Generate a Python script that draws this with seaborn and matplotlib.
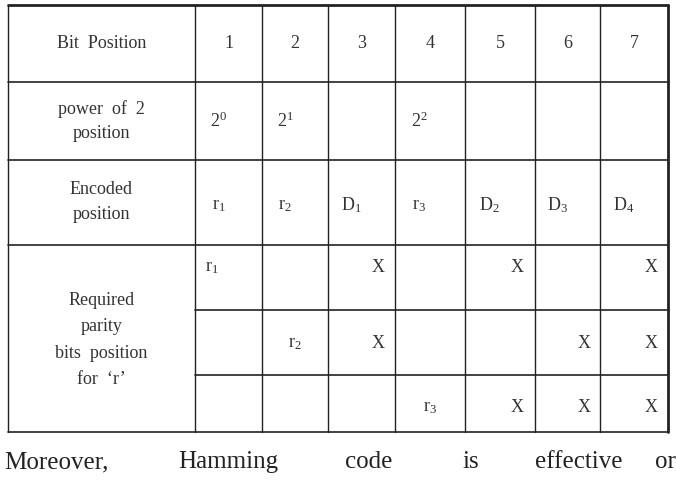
import matplotlib
matplotlib.use("Agg")
import matplotlib.pyplot as plt
import seaborn as sns

sns.set_style("white")
plt.rcParams['font.family'] = ['Liberation Serif', 'DejaVu Serif']
plt.rcParams['mathtext.fontset'] = 'custom'
plt.rcParams['mathtext.rm'] = 'Liberation Serif'
plt.rcParams['mathtext.it'] = 'Liberation Serif'

# table content
row_labels = ["Bit  Position", "power  of  2\nposition", "Encoded\nposition",
              "Required\nparity\nbits  position\nfor  \u2018r\u2019"]
bit_positions = ["1", "2", "3", "4", "5", "6", "7"]
power_of_2 = ["2$^0$", "2$^1$", "", "2$^2$", "", "", ""]
encoded = ["r$_1$", "r$_2$", "D$_1$", "r$_3$", "D$_2$", "D$_3$", "D$_4$"]
parity_r1 = ["r$_1$", "", "X", "", "X", "", "X"]
parity_r2 = ["", "r$_2$", "X", "", "", "X", "X"]
parity_r3 = ["", "", "", "r$_3$", "X", "X", "X"]
footer_words = ["Moreover,", "Hamming", "code", "is", "effective", "or"]

# geometry in pixels
col_edges = [8, 195, 262, 328, 395, 465, 535, 600, 668]
row_edges = [5, 82, 160, 245, 310, 375, 432]
footer_x = [4, 178, 345, 462, 535, 655]

fig = plt.figure(figsize=(6.76, 4.82), dpi=100)
ax = fig.add_axes([0, 0, 1, 1])
ax.set_xlim(0, 676)
ax.set_ylim(482, 0)
ax.axis("off")

lc = "#222222"
# vertical lines
for i, x in enumerate(col_edges):
    lw = 2.0 if i == len(col_edges) - 1 else 1.0
    ax.plot([x, x], [row_edges[0], row_edges[-1]], color=lc, lw=lw)
# horizontal lines
for j, y in enumerate(row_edges):
    lw = 2.0 if j == 0 else 1.2
    x0 = col_edges[1] if j in (4, 5) else col_edges[0]
    ax.plot([x0, col_edges[-1]], [y, y], color=lc, lw=lw)

fs = 13
cx0 = (col_edges[0] + col_edges[1]) / 2
ax.text(cx0, 43, row_labels[0], ha="center", va="center", fontsize=fs, color="#333")
ax.text(cx0, 121, row_labels[1], ha="center", va="center", fontsize=fs, color="#333", linespacing=1.6)
ax.text(cx0, 202, row_labels[2], ha="center", va="center", fontsize=fs, color="#333", linespacing=1.6)
ax.text(cx0, 340, row_labels[3], ha="center", va="center", fontsize=fs, color="#333", linespacing=1.7)

rows = [(bit_positions, 43, 0.5), (power_of_2, 121, 0.35), (encoded, 205, 0.35)]
for vals, y, frac in rows:
    for k, v in enumerate(vals):
        x = col_edges[k + 1] + frac * (col_edges[k + 2] - col_edges[k + 1])
        ax.text(x, y, v, ha="center", va="center", fontsize=fs, color="#333")

for vals, y in [(parity_r1, 268), (parity_r2, 343), (parity_r3, 408)]:
    for k, v in enumerate(vals):
        w = col_edges[k + 2] - col_edges[k + 1]
        frac = 0.25 if v.startswith("r") and k == 0 else (0.5 if v.startswith("r") else 0.75)
        x = col_edges[k + 1] + frac * w
        ax.text(x, y, v, ha="center", va="center", fontsize=fs, color="#333")

for word, x in zip(footer_words, footer_x):
    ax.text(x, 462, word, ha="left", va="center", fontsize=18, color="#222")

fig.savefig("out.png", dpi=100)
